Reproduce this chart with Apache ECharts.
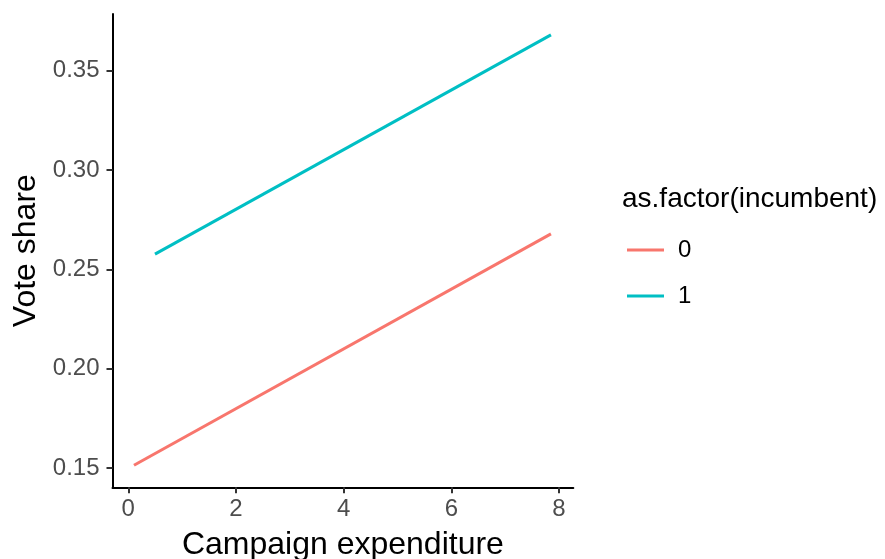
<!DOCTYPE html>
<html>
<head>
<meta charset="utf-8">
<script src="https://cdn.jsdelivr.net/npm/echarts@6/dist/echarts.min.js"></script>
<style>html,body{margin:0;padding:0;background:#fff;}#c{width:885px;height:559px;}</style>
</head>
<body>
<div id="c"></div>
<script>
// Data
const seriesNames = ['0', '1'];
const expenditure0 = [0.106, 7.85];
const voteShare0 = [0.1515, 0.2679];
const expenditure1 = [0.496, 7.85];
const voteShare1 = [0.2577, 0.368];
const xTicks = [0, 2, 4, 6, 8];
const yTicks = [0.15, 0.20, 0.25, 0.30, 0.35];
const colors = ['#F8766D', '#00BFC4'];

const FONT = '"Liberation Sans", Arial, Helvetica, sans-serif';
const pairs = (xs, ys) => xs.map((x, i) => [x, ys[i]]);

const chart = echarts.init(document.getElementById('c'), null, {renderer: 'canvas'});
chart.setOption({
  animation: false,
  backgroundColor: '#fff',
  grid: {left: 112.5, top: 14, right: 311.7, bottom: 71.7, containLabel: false, outerBoundsMode: 'none'},
  title: {
    text: 'as.factor(incumbent)',
    left: 617, top: 180,
    textStyle: {fontFamily: FONT, fontSize: 28, fontWeight: 'normal', color: '#000'}
  },
  legend: {
    data: seriesNames,
    orient: 'vertical',
    left: 622, top: 233,
    icon: 'rect',
    itemWidth: 37, itemHeight: 3,
    itemGap: 22,
    textStyle: {fontFamily: FONT, fontSize: 24, color: '#000', padding: [0, 0, 0, 9]}
  },
  xAxis: {
    type: 'value',
    min: -0.293, max: 8.265,
    name: 'Campaign expenditure',
    nameLocation: 'middle',
    nameGap: 42,
    nameTextStyle: {fontFamily: FONT, fontSize: 32, color: '#000'},
    axisLine: {show: true, onZero: false, lineStyle: {color: '#000', width: 2}},
    axisTick: {show: true, length: 6, customValues: xTicks, lineStyle: {color: '#333', width: 2}},
    axisLabel: {show: true, customValues: xTicks, margin: 10, fontFamily: FONT, fontSize: 24, color: '#4D4D4D'},
    splitLine: {show: false}
  },
  yAxis: {
    type: 'value',
    min: 0.1404, max: 0.3785,
    name: 'Vote share',
    nameLocation: 'middle',
    nameGap: 70,
    nameTextStyle: {fontFamily: FONT, fontSize: 32, color: '#000'},
    axisLine: {show: true, onZero: false, lineStyle: {color: '#000', width: 2}},
    axisTick: {show: true, length: 6, customValues: yTicks, lineStyle: {color: '#333', width: 2}},
    axisLabel: {show: true, customValues: yTicks, margin: 13, fontFamily: FONT, fontSize: 24, color: '#4D4D4D',
      formatter: v => v.toFixed(2)},
    splitLine: {show: false}
  },
  series: [
    {name: seriesNames[0], type: 'line', data: pairs(expenditure0, voteShare0), symbol: 'none',
     lineStyle: {color: colors[0], width: 3}, itemStyle: {color: colors[0]}},
    {name: seriesNames[1], type: 'line', data: pairs(expenditure1, voteShare1), symbol: 'none',
     lineStyle: {color: colors[1], width: 3}, itemStyle: {color: colors[1]}}
  ]
});
</script>
</body>
</html>
